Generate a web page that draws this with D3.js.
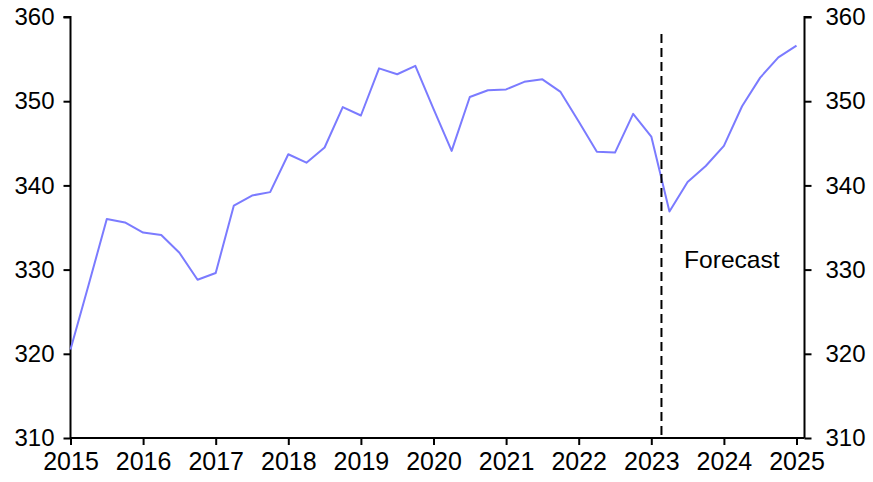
<!DOCTYPE html>
<html>
<head>
<meta charset="utf-8">
<script src="https://cdn.jsdelivr.net/npm/d3@7"></script>
<style>
  html, body { margin: 0; padding: 0; background: #fff; }
  svg { display: block; font-family: "Liberation Sans", Arial, sans-serif; }
</style>
</head>
<body>
<svg id="chart" width="873" height="482"></svg>
<script>
// Quarterly dates (decimal years) and values
const dates = [
  2015.0, 2015.25, 2015.5, 2015.75,
  2016.0, 2016.25, 2016.5, 2016.75,
  2017.0, 2017.25, 2017.5, 2017.75,
  2018.0, 2018.25, 2018.5, 2018.75,
  2019.0, 2019.25, 2019.5, 2019.75,
  2020.0, 2020.25, 2020.5, 2020.75,
  2021.0, 2021.25, 2021.5, 2021.75,
  2022.0, 2022.25, 2022.5, 2022.75,
  2023.0, 2023.25, 2023.5, 2023.75,
  2024.0, 2024.25, 2024.5, 2024.75,
  2025.0
];
const values = [
  320.5, 328.2, 336.0, 335.6,
  334.4, 334.1, 332.0, 328.8,
  329.6, 337.6, 338.8, 339.2,
  343.7, 342.7, 344.5, 349.3,
  348.3, 353.9, 353.2, 354.2,
  349.1, 344.1, 350.5, 351.3,
  351.4, 352.3, 352.6, 351.1,
  347.6, 344.0, 343.9, 348.5,
  345.8, 336.9, 340.4, 342.3,
  344.7, 349.4, 352.8, 355.2,
  356.6
];
const xTicks = [2015, 2016, 2017, 2018, 2019, 2020, 2021, 2022, 2023, 2024, 2025];
const yTicks = [310, 320, 330, 340, 350, 360];
const forecastStart = 2023.14;
const forecastLabel = "Forecast";

const svg = d3.select("#chart");
const pLeft = 70.5, pRight = 796.5, rightAxisX = 804.5, pTop = 17, pBottom = 438;

const x = d3.scaleLinear().domain([2015, 2025]).range([pLeft, pRight]);
const y = d3.scaleLinear().domain([310, 360]).range([pBottom, pTop]);

// Left axis
const yLeft = d3.axisLeft(y).tickValues(yTicks).tickSize(7).tickPadding(9).tickFormat(d3.format("d"));
const gL = svg.append("g").attr("transform", `translate(${pLeft},0)`).call(yLeft);
gL.select(".domain").attr("d", `M-7,${pTop}H0V${pBottom}`).attr("stroke-width", 2);

// Right axis
const yRight = d3.axisRight(y).tickValues(yTicks).tickSize(7).tickPadding(14).tickFormat(d3.format("d"));
const gR = svg.append("g").attr("transform", `translate(${rightAxisX},0)`).call(yRight);
gR.select(".domain").attr("d", `M7,${pTop}H0V${pBottom}`).attr("stroke-width", 2);

// Bottom axis
const xAxis = d3.axisBottom(x).tickValues(xTicks).tickSize(7).tickPadding(7).tickFormat(d3.format("d"));
const gB = svg.append("g").attr("transform", `translate(0,${pBottom})`).call(xAxis);
gB.select(".domain").attr("d", `M${pLeft},0H${rightAxisX}`).attr("stroke-width", 2);

[gL, gR, gB].forEach(g => {
  g.selectAll("text").attr("font-size", "24px").attr("fill", "#000")
    .attr("font-family", "'Liberation Sans', Arial, sans-serif");
  g.selectAll("line").attr("stroke", "#000").attr("stroke-width", 2);
  g.select(".domain").attr("stroke", "#000");
});
gB.selectAll("text").attr("font-size", "25px");

// Data line
const pts = dates.map((d, i) => [d, values[i]]);
svg.append("path")
  .datum(pts)
  .attr("fill", "none")
  .attr("stroke", "#7b7bff")
  .attr("stroke-width", 2)
  .attr("stroke-linejoin", "round")
  .attr("d", d3.line().x(d => x(d[0])).y(d => y(d[1])));

// Forecast marker
svg.append("line")
  .attr("x1", x(forecastStart)).attr("x2", x(forecastStart))
  .attr("y1", 34).attr("y2", pBottom)
  .attr("stroke", "#000").attr("stroke-width", 2)
  .attr("stroke-dasharray", "9,5");

svg.append("text")
  .attr("x", 684).attr("y", 268)
  .attr("font-size", "24.6px")
  .attr("fill", "#000")
  .text(forecastLabel);
</script>
</body>
</html>
